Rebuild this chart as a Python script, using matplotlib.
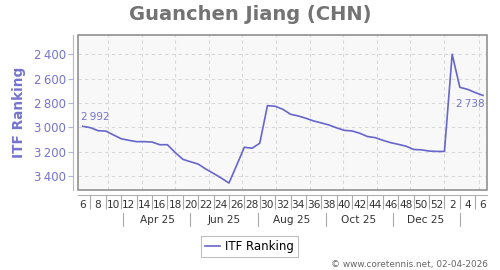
import matplotlib.pyplot as plt
import matplotlib.dates as mdates
from matplotlib.patches import Rectangle
from matplotlib.ticker import FuncFormatter, FixedLocator
import pandas as pd

# weekly ITF ranking, week 6 2025 -> week 6 2026 (points sit mid-week)
first_week = "2025-02-06"
ranking = [2992, 3003, 3028, 3031, 3063, 3094, 3107, 3118, 3118, 3121,
           3143, 3143, 3206, 3263, 3283, 3302, 3343, 3379, 3417, 3458,
           3312, 3164, 3172, 3131, 2822, 2827, 2852, 2893, 2907, 2926,
           2948, 2964, 2981, 3005, 3025, 3030, 3049, 3076, 3085, 3107,
           3126, 3140, 3155, 3182, 3185, 3195, 3198, 3198, 2400, 2672,
           2688, 2715, 2738]
yticks = [2400, 2600, 2800, 3000, 3200, 3400]
month_labels = ["Apr 25", "Jun 25", "Aug 25", "Oct 25", "Dec 25"]
month_centres = ["2025-04-15", "2025-06-15", "2025-08-15", "2025-10-15", "2025-12-15"]
month_seps = ["2025-03-15", "2025-05-15", "2025-07-15", "2025-09-15", "2025-11-15", "2026-01-15"]

line_col = "#6666cc"
axis_col = "#7474cf"

dates = pd.date_range(first_week, periods=len(ranking), freq="7D")
weeks = [d.isocalendar()[1] for d in dates]

fig = plt.figure(figsize=(5, 2.7), dpi=100)
ax = fig.add_axes([78/500, 1-190/270, 409/500, 155/270])
ax.set_facecolor("#f8f8f8")

ax.plot(dates, ranking, color=line_col, lw=1.2, label="ITF Ranking", zorder=4)

# axes ranges (ranking axis is reversed)
ax.set_xlim(dates[0] - pd.Timedelta(days=4.3), dates[-1] + pd.Timedelta(days=3.7))
ax.set_ylim(3515, 2242)

# grid: horizontal at y ticks, vertical at month starts
ax.set_yticks(yticks)
ax.yaxis.set_major_formatter(FuncFormatter(lambda v, p: f"{int(v):,}".replace(",", "\u2009")))
month_starts = pd.date_range("2025-03-01", "2026-02-01", freq="MS")
for m in month_starts:
    ax.axvline(m, color="#d8d8d8", lw=0.8, ls=(0, (3, 3)), zorder=1)
for v in yticks:
    ax.axhline(v, color="#d8d8d8", lw=0.8, ls=(0, (3, 3)), zorder=1)

# frame box
ax.add_patch(Rectangle((0, 0), 1, 1, transform=ax.transAxes, fill=False,
                       edgecolor="#888888", lw=1.1, clip_on=False, zorder=5))
for s in ["top", "right"]:
    ax.spines[s].set_visible(False)
ax.spines["left"].set_position(("outward", 3.6))
ax.spines["left"].set_color("#b4b4e0")
ax.spines["bottom"].set_position(("outward", 3.3))
ax.spines["bottom"].set_color("#b0b0b0")

ax.tick_params(axis="y", colors="#b4b4e0", labelcolor=axis_col, labelsize=8.5,
               length=3.5, width=0.8, pad=1.5)

# week labels on even weeks, separators on odd weeks
even = [i for i, w in enumerate(weeks) if w % 2 == 0]
odd = [i for i, w in enumerate(weeks) if w % 2 == 1]
ax.xaxis.set_major_locator(FixedLocator([mdates.date2num(dates[i]) for i in even]))
ax.set_xticklabels([str(weeks[i]) for i in even])
ax.xaxis.set_minor_locator(FixedLocator([mdates.date2num(dates[i]) for i in odd]))
ax.tick_params(axis="x", which="major", length=0, pad=4, labelsize=7.6, labelcolor="#333333")
ax.tick_params(axis="x", which="minor", length=10, width=0.8, color="#aaaaaa")

# second row: months
tr = ax.get_xaxis_transform()
for lab, c in zip(month_labels, month_centres):
    ax.text(pd.Timestamp(c), -0.195, lab, transform=tr, ha="center", va="center",
            fontsize=7.6, color="#333333")
for s in month_seps:
    ax.plot([pd.Timestamp(s)] * 2, [-0.15, -0.235], transform=tr, color="#aaaaaa",
            lw=0.8, clip_on=False)

ax.set_ylabel("ITF Ranking", color=axis_col, fontsize=9.8, fontweight="bold", labelpad=6)

# first and last value labels
ax.annotate(f"{ranking[0]:,}".replace(",", "\u2009"), (dates[0], ranking[0]),
            xytext=(-1, 6.5), textcoords="offset points", ha="left", va="center",
            fontsize=7.5, color=axis_col)
ax.annotate(f"{ranking[-1]:,}".replace(",", "\u2009"), (dates[-1], ranking[-1]),
            xytext=(1, -6.5), textcoords="offset points", ha="right", va="center",
            fontsize=7.5, color=axis_col)

fig.suptitle("Guanchen Jiang (CHN)", x=0.5, y=1-14/270, va="center",
             fontsize=14, fontweight="bold", color="#737373")

leg = fig.legend(loc="center", bbox_to_anchor=(249.5/500, 1-246.5/270), fontsize=8.5,
                 fancybox=False, edgecolor="#b0b0b0", handlelength=1.3,
                 handletextpad=0.4, borderpad=0.35, borderaxespad=0)
leg.get_frame().set_linewidth(0.8)

fig.text(488/500, 1-264/270, "\u00a9 www.coretennis.net, 02-04-2026", ha="right",
         va="center", fontsize=6.4, color="#666666")

fig.savefig("out.png", dpi=100)
